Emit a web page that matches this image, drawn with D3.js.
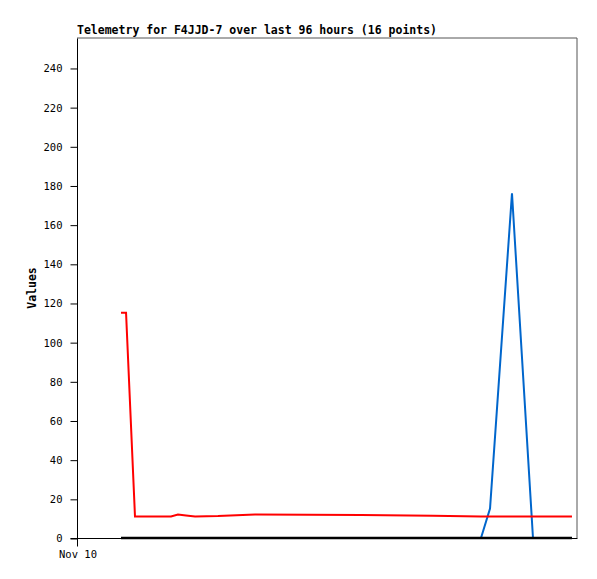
<!DOCTYPE html>
<html>
<head>
<meta charset="utf-8">
<script src="https://cdn.jsdelivr.net/npm/d3@7"></script>
<style>
  body{margin:0;background:#fff}
  text{font-family:"DejaVu Sans Mono",monospace}
</style>
</head>
<body>
<svg id="chart" width="597" height="579"></svg>
<script>
// data
const title = "Telemetry for F4JJD-7 over last 96 hours (16 points)"
const yLabel = "Values"
const times = [
  "2023-11-10T08:27","2023-11-10T09:25","2023-11-10T11:08","2023-11-10T18:03",
  "2023-11-10T19:23","2023-11-10T20:56","2023-11-10T22:40","2023-11-11T03:04",
  "2023-11-11T10:11","2023-11-12T06:32","2023-11-12T20:21","2023-11-13T05:34",
  "2023-11-13T07:18","2023-11-13T11:31","2023-11-13T15:33","2023-11-13T23:02"
]
const blueVals  = [0,0,0,0,0,0,0,0,0,0,0,0,15,176,0,0]
const redVals   = [115,115,11,11,12,11.5,11,11.2,12,11.8,11.3,11,11,11,11,11]
const blackVals = [0,0,0,0,0,0,0,0,0,0,0,0,0,0,0,0]
const yTicks = [0,20,40,60,80,100,120,140,160,180,200,220,240]
const xStart = "2023-11-10T00:00", xEnd = "2023-11-14T00:00"

const svg = d3.select("#chart")
const m = {left:77, top:38, right:577, bottom:538}
const parse = d3.timeParse("%Y-%m-%dT%H:%M")
const dates = times.map(parse)

let x = d3.scaleTime().domain([parse(xStart), parse(xEnd)]).range([m.left, m.right])
let y = d3.scaleLinear().domain([0, 255.3]).range([m.bottom, m.top])

// frame (top + right in gray)
svg.append("path")
  .attr("d", `M${m.left},${m.top}H${m.right}V${m.bottom}`)
  .attr("fill","none").attr("stroke","#555").attr("stroke-width",1)

// y axis
let yAxis = d3.axisLeft(y).tickValues(yTicks).tickSize(7).tickPadding(8)
let gy = svg.append("g").attr("transform",`translate(${m.left+0.5},0.5)`).call(yAxis)
gy.select(".domain").attr("d",`M0,${m.top}V${m.bottom+8}`)
gy.selectAll("text").attr("font-size","10.5px").attr("font-family","DejaVu Sans Mono").attr("fill","#000")

// x axis, only the start tick
let xAxis = d3.axisBottom(x).tickValues([parse(xStart)]).tickFormat(d3.timeFormat("%b %d")).tickSize(0).tickPadding(12)
let gx = svg.append("g").attr("transform",`translate(0.5,${m.bottom+0.5})`).call(xAxis)
gx.select(".domain").attr("d",`M${m.left-7},0H${m.right}`)
gx.selectAll("text").attr("font-size","10.5px").attr("font-family","DejaVu Sans Mono").attr("fill","#000")

let line = d3.line().x((d,i)=>x(dates[i])).y(d=>y(d))

const series = [
  {vals: blueVals, color:"#0066cc", w:2},
  {vals: redVals, color:"#ff0000", w:2},
  {vals: blackVals, color:"#000000", w:2.5}
]
series.forEach(s=>{
  svg.append("path").datum(s.vals)
    .attr("d", line)
    .attr("fill","none")
    .attr("stroke", s.color)
    .attr("stroke-width", s.w)
    .attr("stroke-linejoin","miter")
})

// title
svg.append("text").attr("x", m.left).attr("y", 34)
  .attr("font-size","11.5px").attr("font-weight","bold").text(title)

// y label
svg.append("text").attr("transform","translate(36,288) rotate(-90)")
  .attr("text-anchor","middle").attr("font-size","11.5px").attr("font-weight","bold").text(yLabel)
</script>
</body>
</html>
